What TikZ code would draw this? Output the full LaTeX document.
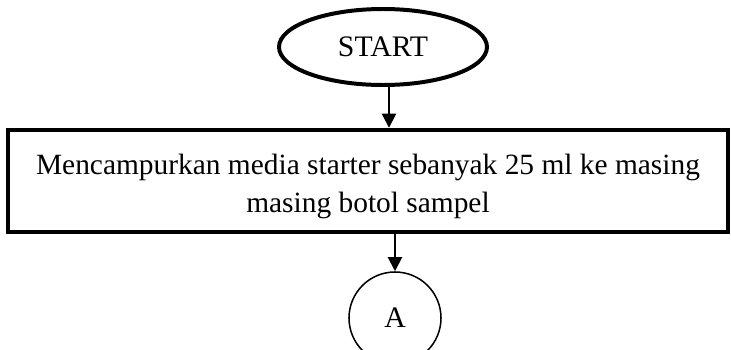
\documentclass[tikz,border=0pt]{standalone}
\usepackage{fontspec}
\setmainfont{Liberation Serif}
\usetikzlibrary{arrows.meta,shapes.geometric,positioning}
\tikzset{
  terminal/.style={ellipse,draw,line width=1.7pt,inner sep=0pt,
    minimum width=3.12cm,minimum height=1.14cm,font=\fontsize{12.7}{14}\selectfont},
  process/.style={rectangle,draw,line width=1.9pt,inner sep=0pt,
    minimum width=10.8cm,minimum height=1.53cm,align=center,
    font=\fontsize{12.55}{16.3}\selectfont},
  connector/.style={circle,draw,line width=0.65pt,inner sep=0pt,
    minimum size=1.38cm,font=\fontsize{12.7}{14}\selectfont},
  arr/.style={-{Triangle[width=6pt,length=6pt]},line width=0.85pt},
}

\begin{document}
\begin{tikzpicture}[x=0.015cm,y=0.015cm]
  \useasboundingbox (0,0) rectangle (731,349);
  % flowchart
  \node[terminal] (start) at (383,302) {START};
  \node[process] (proc) at (368,168)
    {\raisebox{-0.08cm}[\height][\depth]{\shortstack{Mencampurkan media starter sebanyak 25 ml ke masing\\[0.07cm]masing botol sampel}}};
  \node[connector] (A) at (395,31) {A};
  \draw[arr] ([xshift=0.09cm]start.south) -- ([xshift=0.09cm]start.south |- proc.north);
  \draw[arr] (A.north |- proc.south) -- (A.north);
\end{tikzpicture}
\end{document}
